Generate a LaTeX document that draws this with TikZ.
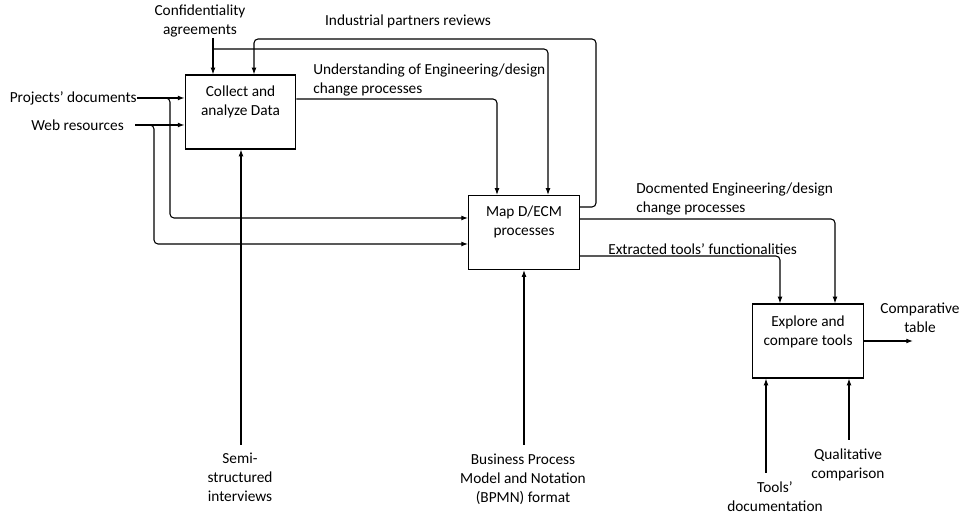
\documentclass[tikz,border=0pt]{standalone}
\usepackage{fontspec}
\setmainfont{Carlito}
\usetikzlibrary{arrows.meta}

\begin{document}
\begin{tikzpicture}[x=0.75pt,y=-0.75pt,
  box/.style={draw,line width=0.9pt,minimum width=83pt,minimum height=55.5pt,inner sep=0pt},
  txt/.style={font=\fontsize{11.5}{14.25}\selectfont,align=center,inner sep=0pt},
  flow/.style={line width=0.8pt,rounded corners=3pt,-{Latex[length=5pt,width=3.6pt]}}]
  \useasboundingbox (0,0) rectangle (965,516);
  \node[box](collect) at (240.5,112){};
  \node[box](map) at (524,232.5){};
  \node[box](explore) at (808,341){};
  \node[txt](collecttxt) at (240.5,101.5){Collect and\\analyze Data};
  \node[txt](maptxt) at (524,222){Map D/ECM\\processes};
  \node[txt](exploretxt) at (808,331.5){Explore and\\compare tools};
  \node[txt](conf) at (200,21.5){Confidentiality\\agreements};
  \node[txt](ind) at (408,21){Industrial partners reviews};
  \node[txt,anchor=east](pd) at (137,98){Projects’ documents};
  \node[txt,anchor=east](web) at (124,125){Web resources};
  \node[txt,align=left,anchor=west](und) at (313,79.5){Understanding of Engineering/design\\change processes};
  \node[txt,align=left,anchor=west](doc) at (636,198.5){Docmented Engineering/design\\change processes};
  \node[txt,anchor=west](ext) at (608,249){Extracted tools’ functionalities};
  \node[txt](comp) at (920,317.5){Comparative\\table};
  \node[txt](semi) at (240,477){Semi-\\structured\\interviews};
  \node[txt](bpmn) at (523,479){Business Process\\Model and Notation\\(BPMN) format};
  \node[txt](qual) at (848,464.5){Qualitative\\comparison};
  \node[txt](tdoc) at (775,496.5){Tools’\\documentation};
  \coordinate(c0) at (213,38);
  \coordinate(w0) at (135,125);
  \coordinate(s0) at (241,445);
  \coordinate(b0) at (524,445);
  \coordinate(t0) at (766,473);
  \coordinate(q0) at (849,440);
  \coordinate(out) at (913,341);
  \draw[flow] (c0) -- (c0 |- collect.north);
  \draw[flow] (213,49) -- (548,49) -- (548,0 |- map.north);
  \draw[flow] (map.east |- 0,207) -- (596,207) -- (596,39) -- (254,39) -- (254,0 |- collect.north);
  \draw[flow] (pd.east) -- (pd.east -| collect.west);
  \draw[flow] (w0) -- (w0 -| collect.west);
  \draw[flow] (163,98) -- (170,98) -- (170,218) -- (map.west |- 0,218);
  \draw[flow] (147,125) -- (154,125) -- (154,244) -- (map.west |- 0,244);
  \draw[flow] (collect.east |- 0,99) -- (497,99) -- (497,0 |- map.north);
  \draw[flow] (s0) -- (s0 |- collect.south);
  \draw[flow] (b0) -- (b0 |- map.south);
  \draw[flow] (map.east |- 0,219) -- (835,219) -- (835,0 |- explore.north);
  \draw[flow] (map.east |- 0,256) -- (780,256) -- (780,0 |- explore.north);
  \draw[flow] (t0) -- (t0 |- explore.south);
  \draw[flow] (q0) -- (q0 |- explore.south);
  \draw[flow] (explore.east |- out) -- (out);
\end{tikzpicture}
\end{document}
